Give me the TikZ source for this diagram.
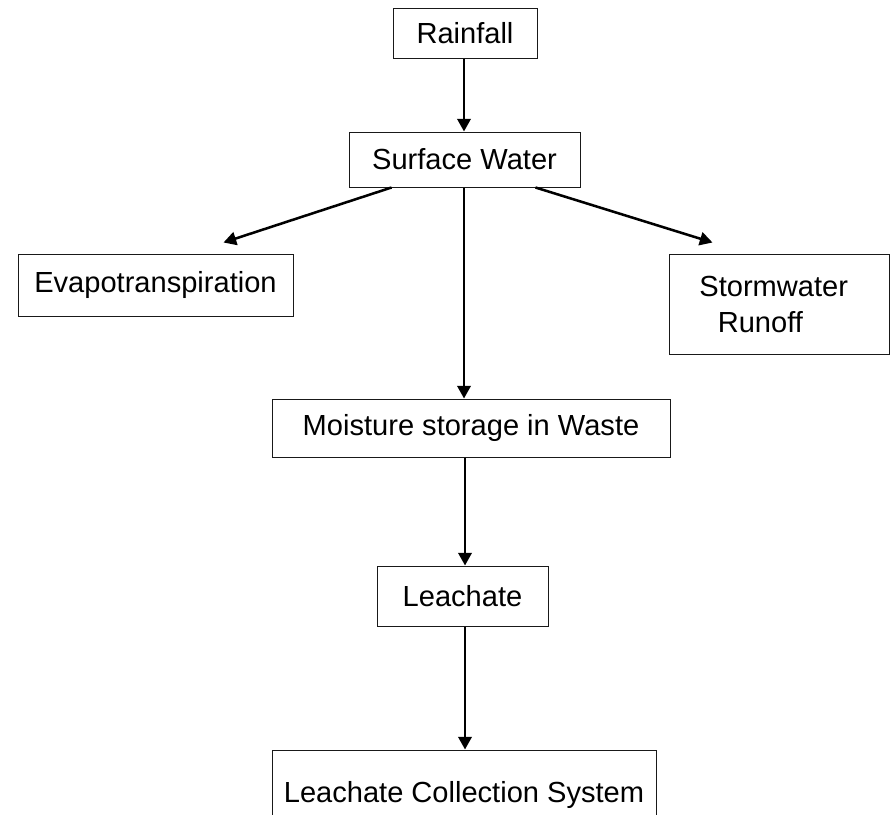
\documentclass[tikz,border=0pt]{standalone}
\usepackage{fontspec}
\setmainfont{Liberation Sans}
\usetikzlibrary{arrows.meta,calc}
\begin{document}
\begin{tikzpicture}[x=0.75pt,y=-0.75pt,
  box/.style={draw=black!90, line width=0.75pt, inner sep=0pt,
    font=\fontsize{21.8}{27}\selectfont},
  arr/.style={line width=1.9pt, -{Triangle[length=9.5pt,width=10pt]}}]
\useasboundingbox (0,0) rectangle (891,814);
\clip (0,0) rectangle (891,814);
\node[box, minimum width=108pt, minimum height=37.5pt] (rain) at (465,33) {Rainfall};
\node[box, minimum width=173.25pt, minimum height=41.25pt] (sw) at (464.5,159.5) {Surface Water};
\node[box, minimum width=206.25pt, minimum height=46.5pt] (evap) at (155.5,285) {Evapotranspiration};
\node[box, minimum width=165pt, minimum height=75pt, align=center] (storm) at (779,304) {Stormwater\hspace{8pt}\mbox{}\\Runoff\hspace{28pt}\mbox{}};
\node[box, minimum width=298.5pt, minimum height=43.5pt] (moist) at (471,428) {Moisture storage in Waste};
\node[box, minimum width=128.25pt, minimum height=45pt] (leach) at (462.5,596) {Leachate};
\node[box, minimum width=288pt, minimum height=67.5pt] (lcs) at (464,795) {Leachate Collection System};

\draw[arr] (464,0 |- rain.south) -- (464,0 |- sw.north);
\draw[arr] ($(sw.south west)+(43,0)$) -- ($(evap.north west)+(206,-11)$);
\draw[arr] ($(sw.south east)+(-45,0)$) -- ($(storm.north west)+(44,-11)$);
\draw[arr] (464,0 |- sw.south) -- (464,0 |- moist.north);
\draw[arr] (465,0 |- moist.south) -- (465,0 |- leach.north);
\draw[arr] (465,0 |- leach.south) -- (465,0 |- lcs.north);
\end{tikzpicture}
\end{document}
